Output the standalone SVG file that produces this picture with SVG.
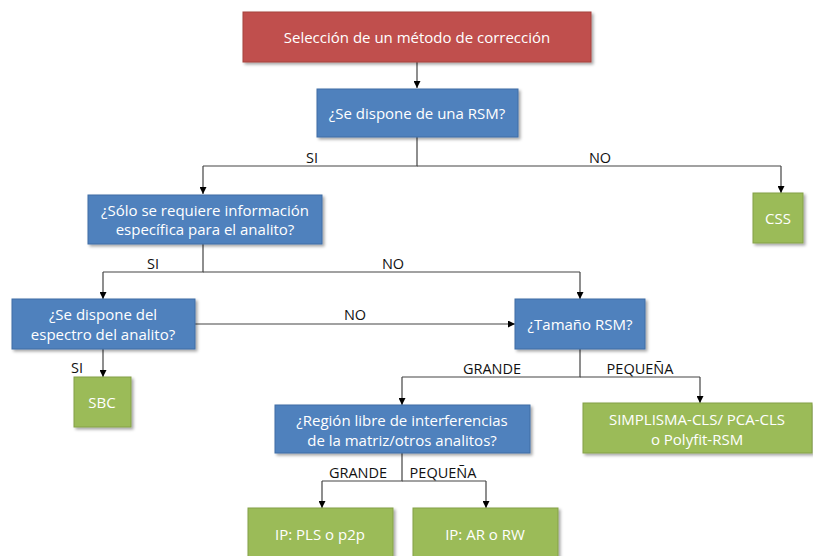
<svg xmlns="http://www.w3.org/2000/svg" width="813" height="556" viewBox="0 0 813 556">
<defs>
<marker id="arr" viewBox="0 0 10 10" refX="10" refY="5" markerWidth="7" markerHeight="7" markerUnits="userSpaceOnUse" orient="auto">
<path d="M0,0 L10,5 L0,10 z" fill="#000"/>
</marker>
<filter id="sh" x="-10%" y="-10%" width="130%" height="140%">
<feDropShadow dx="2" dy="2" stdDeviation="1.5" flood-color="#000" flood-opacity="0.35"/>
</filter>
</defs>
<style>
.red{fill:#C0504D;stroke:#A5403D;stroke-width:1}
.blue{fill:#4F81BD;stroke:#3F6DA5;stroke-width:1}
.green{fill:#9BBB59;stroke:#84A046;stroke-width:1}
.box{filter:url(#sh)}
.t{font-family:"Open Sans","Liberation Sans",sans-serif;font-size:15px;fill:#fff;text-anchor:middle}
.lbl{font-family:"Open Sans","Liberation Sans",sans-serif;font-size:14.5px;fill:#111;text-anchor:middle}
.c{fill:none;stroke:#444;stroke-width:1.2}
.a{marker-end:url(#arr)}
</style>
<rect width="813" height="556" fill="#fff"/>
<g id="connectors">
<path class="c a" d="M417,62 V88"/>
<path class="c" d="M417,137 V166 H203"/>
<path class="c a" d="M203,166 V194"/>
<path class="c" d="M417,166 H781"/>
<path class="c a" d="M781,166 V193"/>
<path class="c" d="M203,244 V272 H103"/>
<path class="c a" d="M103,272 V299"/>
<path class="c" d="M203,272 H580"/>
<path class="c a" d="M580,272 V299"/>
<path class="c a" d="M195,324 H515"/>
<path class="c a" d="M103,349 V377"/>
<path class="c" d="M580,349 V377 H402"/>
<path class="c a" d="M402,377 V405"/>
<path class="c" d="M580,377 H700"/>
<path class="c a" d="M700,377 V403"/>
<path class="c" d="M402,453 V481 H322"/>
<path class="c a" d="M322,481 V508"/>
<path class="c" d="M402,481 H486"/>
<path class="c a" d="M486,481 V508"/>
<text class="lbl" x="312" y="163">SI</text>
<text class="lbl" x="600" y="163">NO</text>
<text class="lbl" x="153" y="269">SI</text>
<text class="lbl" x="393" y="269">NO</text>
<text class="lbl" x="355" y="320">NO</text>
<text class="lbl" x="77" y="373">SI</text>
<text class="lbl" x="492" y="374">GRANDE</text>
<text class="lbl" x="640" y="374">PEQUEÑA</text>
<text class="lbl" x="358" y="478">GRANDE</text>
<text class="lbl" x="443" y="478">PEQUEÑA</text>
</g>
<g id="n-start"><rect class="red box" x="243" y="12" width="348" height="50"/><text class="t" x="417" y="43">Selección de un método de corrección</text></g>
<g id="n-rsm"><rect class="blue box" x="317" y="89" width="201" height="48"/><text class="t" x="417" y="119">¿Se dispone de una RSM?</text></g>
<g id="n-solo"><rect class="blue box" x="88" y="195" width="234" height="49"/><text class="t" x="205" y="216">¿Sólo se requiere información</text><text class="t" x="205" y="235">específica para el analito?</text></g>
<g id="n-css"><rect class="green box" x="753" y="193" width="50" height="50"/><text class="t" x="778" y="224">CSS</text></g>
<g id="n-espectro"><rect class="blue box" x="12" y="299" width="183" height="50"/><text class="t" x="103" y="320">¿Se dispone del</text><text class="t" x="103" y="340">espectro del analito?</text></g>
<g id="n-tamano"><rect class="blue box" x="515" y="299" width="130" height="50"/><text class="t" x="580" y="330">¿Tamaño RSM?</text></g>
<g id="n-sbc"><rect class="green box" x="74" y="377" width="57" height="50"/><text class="t" x="102" y="408">SBC</text></g>
<g id="n-region"><rect class="blue box" x="275" y="405" width="255" height="48"/><text class="t" x="402" y="426">¿Región libre de interferencias</text><text class="t" x="402" y="446">de la matriz/otros analitos?</text></g>
<g id="n-simplisma"><rect class="green box" x="583" y="403" width="229" height="50"/><text class="t" x="697" y="425">SIMPLISMA-CLS/ PCA-CLS</text><text class="t" x="697" y="445">o Polyfit-RSM</text></g>
<g id="n-pls"><rect class="green box" x="248" y="508" width="145" height="52"/><text class="t" x="320" y="540">IP: PLS o p2p</text></g>
<g id="n-ar"><rect class="green box" x="413" y="508" width="145" height="52"/><text class="t" x="485" y="540">IP: AR o RW</text></g>
</svg>
